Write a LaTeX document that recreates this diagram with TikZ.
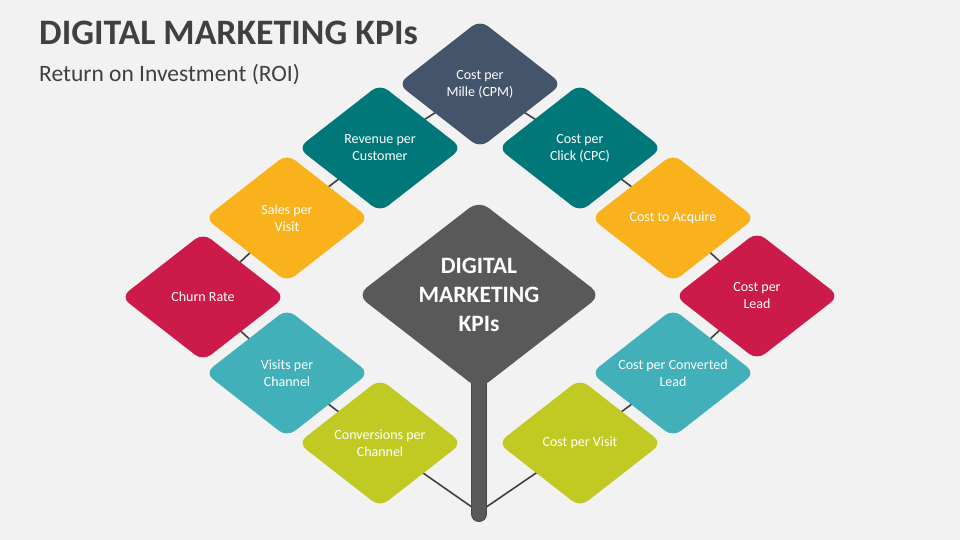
\documentclass[tikz,border=0pt]{standalone}
\usepackage{fontspec}
\setmainfont{Carlito}
\usetikzlibrary{shapes.geometric}
\pgfdeclarelayer{bg}
\pgfdeclarelayer{lines}
\pgfsetlayers{bg,lines,main}
\definecolor{bgcol}{HTML}{F2F2F2}
\definecolor{titlecol}{HTML}{404040}
\definecolor{slate}{HTML}{44546A}
\definecolor{teal}{HTML}{00787A}
\definecolor{amber}{HTML}{F9B21B}
\definecolor{crimson}{HTML}{CC1A4A}
\definecolor{aqua}{HTML}{41B0B9}
\definecolor{lime}{HTML}{C1C923}
\definecolor{hub}{HTML}{595959}
\definecolor{linecol}{HTML}{404040}
\begin{document}
\begin{tikzpicture}[x=1pt,y=-1pt,
  kpi/.style={diamond, minimum width=164pt, minimum height=128pt, inner sep=0pt, outer sep=0pt, rounded corners=10pt, draw=none},
  kpilabel/.style={text=white, font=\fontsize{14}{17}\selectfont, align=center, inner sep=0pt},
  hublabel/.style={text=white, font=\fontsize{23.5}{29}\selectfont\bfseries, align=center, inner sep=0pt},
  link/.style={draw=linecol, line width=1.6pt},
  stemout/.style={draw=hub!80!black, line width=16pt, line cap=round},
  stemin/.style={draw=hub, line width=14pt, line cap=round}]
\useasboundingbox (0,0) rectangle (960,540);
\begin{pgfonlayer}{bg}
\fill[bgcol] (0,0) rectangle (960,540);
\end{pgfonlayer}

\node[anchor=base west, text=titlecol, font=\fontsize{35.8}{42}\selectfont\bfseries, inner sep=0pt] (title) at (39,45) {DIGITAL MARKETING KPIs};
\node[anchor=base west, text=titlecol, font=\fontsize{23.5}{28}\selectfont, inner sep=0pt] (subtitle) at (39,82) {Return on Investment (ROI)};

\node[kpi, fill=hub, minimum width=244pt, minimum height=189pt, rounded corners=12pt, label={[hublabel]center:{DIGITAL\\MARKETING\\KPIs}}] (hubd) at (479,295) {};

\node[kpi, fill=slate, label={[kpilabel]center:{Cost per\\Mille (CPM)}}] (cpm) at (480,84) {};
\node[kpi, fill=teal, label={[kpilabel]center:{Revenue per\\Customer}}] (rev) at (380,148) {};
\node[kpi, fill=teal, label={[kpilabel]center:{Cost per\\Click (CPC)}}] (cpc) at (580,148) {};
\node[kpi, fill=amber, label={[kpilabel]center:{Sales per\\Visit}}] (sales) at (287,218) {};
\node[kpi, fill=amber, label={[kpilabel]center:{Cost to Acquire}}] (acq) at (673,218) {};
\node[kpi, fill=crimson, label={[kpilabel]center:{Churn Rate}}] (churn) at (203,297) {};
\node[kpi, fill=crimson, label={[kpilabel]center:{Cost per\\Lead}}] (lead) at (757,296) {};
\node[kpi, fill=aqua, label={[kpilabel]center:{Visits per\\Channel}}] (visits) at (287,373) {};
\node[kpi, fill=aqua, label={[kpilabel]center:{Cost per Converted\\Lead}}] (convlead) at (673,373) {};
\node[kpi, fill=lime, label={[kpilabel]center:{Conversions per\\Channel}}] (conv) at (380,443) {};
\node[kpi, fill=lime, label={[kpilabel]center:{Cost per Visit}}] (visit) at (580,443) {};

\coordinate (stemjoin) at (479,512);
\coordinate (stembot) at (479,514);

\begin{pgfonlayer}{lines}
\draw[link] (cpm.center) -- (rev.center);
\draw[link] (rev.center) -- (sales.center);
\draw[link] (sales.center) -- (churn.center);
\draw[link] (churn.center) -- (visits.center);
\draw[link] (visits.center) -- (conv.center);
\draw[link] (cpm.center) -- (cpc.center);
\draw[link] (cpc.center) -- (acq.center);
\draw[link] (acq.center) -- (lead.center);
\draw[link] (lead.center) -- (convlead.center);
\draw[link] (convlead.center) -- (visit.center);
\draw[link] (stemjoin) -- (conv.center);
\draw[link] (stemjoin) -- (visit.center);
\draw[stemout] (hubd.center) -- (stembot);
\draw[stemin] (hubd.center) -- (stembot);
\end{pgfonlayer}
\end{tikzpicture}
\end{document}
